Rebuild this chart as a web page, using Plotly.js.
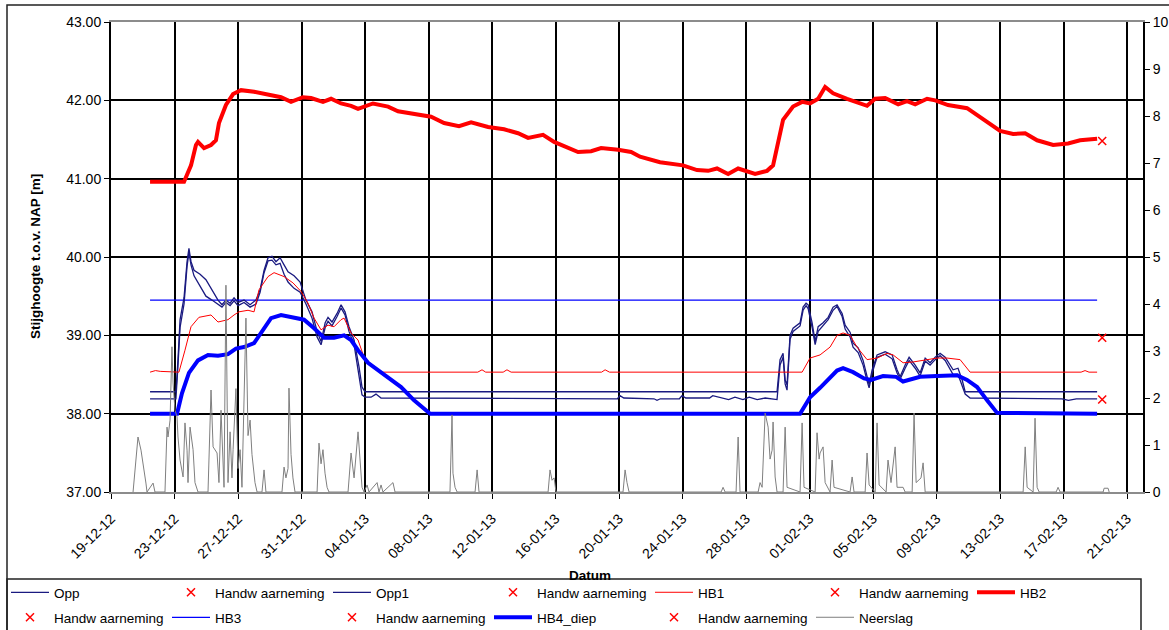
<!DOCTYPE html>
<html>
<head>
<meta charset="utf-8">
<script src="https://cdn.plot.ly/plotly-3.0.1.min.js"></script>
<style>
  html, body { margin: 0; padding: 0; background: #fff; }
  #grafiek { width: 1169px; height: 630px; }
</style>
</head>
<body>
<div id="grafiek"></div>
<script>
// Meetreeksen: [dagen sinds 19-12-2012 00:00, waarde]
const startDatum = Date.UTC(2012, 11, 19);

// Stijghoogten [m t.o.v. NAP]
const opp = [[2.46,38.28],[4.09,38.28],[4.22,38.69],[4.35,39.20],[4.60,39.48],[4.79,39.94],[4.91,40.11],[5.04,39.94],[5.23,39.83],[5.61,39.78],[5.98,39.71],[6.36,39.58],[6.74,39.45],[6.99,39.39],[7.24,39.45],[7.50,39.41],[7.75,39.48],[8.00,39.42],[8.38,39.45],[8.76,39.39],[9.13,39.45],[9.39,39.58],[9.64,39.83],[9.89,39.99],[10.14,40.01],[10.39,39.94],[10.65,39.99],[10.90,39.90],[11.15,39.81],[11.53,39.76],[11.91,39.68],[12.28,39.45],[12.66,39.30],[12.98,39.05],[13.23,38.92],[13.49,39.16],[13.67,39.23],[13.92,39.17],[14.24,39.28],[14.49,39.39],[14.74,39.30],[14.99,39.11],[15.31,38.94],[15.62,38.60],[15.81,38.34],[16.00,38.28],[41.95,38.28],[42.14,38.69],[42.33,38.77],[42.46,38.43],[42.58,38.37],[42.77,39.00],[42.96,39.09],[43.40,39.16],[43.59,39.36],[43.78,39.41],[43.91,39.39],[44.16,39.16],[44.35,38.92],[44.54,39.11],[44.85,39.16],[45.17,39.23],[45.48,39.36],[45.73,39.39],[46.05,39.28],[46.24,39.13],[46.55,39.04],[46.74,38.90],[47.06,38.84],[47.37,38.68],[47.62,38.47],[47.75,38.37],[47.94,38.56],[48.25,38.75],[48.76,38.79],[49.20,38.75],[49.51,38.56],[49.70,38.47],[50.02,38.62],[50.27,38.72],[50.65,38.62],[50.96,38.52],[51.28,38.71],[51.59,38.65],[51.91,38.72],[52.22,38.77],[52.54,38.72],[52.85,38.62],[53.04,38.56],[53.35,38.58],[53.61,38.43],[53.80,38.28],[62.11,38.28]];

const opp1 = [[2.46,38.19],[4.09,38.19],[4.22,38.62],[4.35,39.10],[4.60,39.40],[4.79,39.88],[4.91,40.06],[5.04,39.90],[5.23,39.76],[5.61,39.62],[5.98,39.50],[6.36,39.45],[6.74,39.40],[6.99,39.36],[7.24,39.42],[7.50,39.38],[7.75,39.44],[8.00,39.38],[8.38,39.42],[8.76,39.36],[9.13,39.40],[9.39,39.55],[9.64,39.80],[9.89,39.95],[10.14,39.96],[10.39,39.90],[10.65,39.92],[10.90,39.78],[11.15,39.68],[11.53,39.60],[11.91,39.55],[12.28,39.40],[12.66,39.22],[12.98,38.98],[13.23,38.88],[13.49,39.10],[13.67,39.18],[13.92,39.12],[14.24,39.24],[14.49,39.35],[14.74,39.26],[14.99,39.05],[15.31,38.88],[15.62,38.50],[15.81,38.24],[16.00,38.21],[16.38,38.21],[16.69,38.25],[17.01,38.20],[31.90,38.19],[32.06,38.23],[32.30,38.20],[34.20,38.19],[34.39,38.17],[34.60,38.19],[35.80,38.19],[35.97,38.23],[36.20,38.20],[37.70,38.20],[37.90,38.23],[38.30,38.21],[38.90,38.18],[39.30,38.21],[39.80,38.18],[40.20,38.21],[40.70,38.18],[41.20,38.20],[41.95,38.18],[42.14,38.62],[42.33,38.72],[42.46,38.38],[42.58,38.30],[42.77,38.95],[42.96,39.05],[43.40,39.12],[43.59,39.32],[43.78,39.38],[43.91,39.34],[44.16,39.10],[44.35,38.88],[44.54,39.05],[44.85,39.12],[45.17,39.20],[45.48,39.32],[45.73,39.37],[46.05,39.24],[46.24,39.08],[46.55,38.98],[46.74,38.85],[47.06,38.78],[47.37,38.62],[47.62,38.42],[47.75,38.33],[47.94,38.52],[48.25,38.72],[48.76,38.76],[49.20,38.70],[49.51,38.52],[49.70,38.44],[50.02,38.58],[50.27,38.68],[50.65,38.58],[50.96,38.48],[51.28,38.67],[51.59,38.62],[51.91,38.69],[52.22,38.74],[52.54,38.68],[52.85,38.57],[53.04,38.50],[53.35,38.50],[53.61,38.36],[53.80,38.25],[54.11,38.20],[59.90,38.19],[60.30,38.17],[60.80,38.19],[62.11,38.19]];

const hb1 = [[2.46,38.53],[2.80,38.55],[3.10,38.54],[4.28,38.53],[4.66,38.81],[5.04,39.11],[5.54,39.23],[6.30,39.26],[6.74,39.17],[7.37,39.20],[7.75,39.26],[8.06,39.30],[8.63,39.32],[9.01,39.30],[9.32,39.58],[9.89,39.75],[10.27,39.80],[10.90,39.75],[11.46,39.67],[11.97,39.56],[12.41,39.41],[12.79,39.22],[13.23,39.07],[13.67,39.13],[14.05,39.11],[14.49,39.20],[14.68,39.22],[15.12,39.03],[15.56,38.94],[15.94,38.72],[16.57,38.60],[17.01,38.53],[23.10,38.53],[23.37,38.56],[23.60,38.53],[24.70,38.53],[24.94,38.56],[25.20,38.53],[30.90,38.53],[31.12,38.56],[31.40,38.53],[43.53,38.53],[44.03,38.71],[44.66,38.75],[45.29,38.85],[45.73,39.00],[46.11,39.03],[46.55,39.00],[46.99,38.85],[47.62,38.69],[48.25,38.71],[48.88,38.77],[49.26,38.75],[49.89,38.65],[50.52,38.66],[51.40,38.69],[52.03,38.71],[52.66,38.71],[53.48,38.69],[54.11,38.53],[61.10,38.53],[61.35,38.55],[61.60,38.53],[62.11,38.53]];

const hb2 = [[2.46,40.96],[4.60,40.96],[5.04,41.17],[5.35,41.43],[5.48,41.47],[5.86,41.39],[6.30,41.43],[6.61,41.49],[6.80,41.71],[7.24,41.94],[7.69,42.08],[8.19,42.13],[9.01,42.11],[9.89,42.07],[10.71,42.04],[11.34,41.98],[12.09,42.04],[12.60,42.03],[13.35,41.98],[13.86,42.02],[14.49,41.96],[15.12,41.93],[15.56,41.89],[16.50,41.96],[17.45,41.92],[18.08,41.86],[19.09,41.82],[20.16,41.79],[20.98,41.71],[21.92,41.67],[22.68,41.72],[23.75,41.66],[24.76,41.63],[25.64,41.58],[26.27,41.52],[27.21,41.56],[27.91,41.47],[28.79,41.40],[29.42,41.34],[30.24,41.35],[30.87,41.39],[31.94,41.37],[32.76,41.34],[33.32,41.28],[34.58,41.21],[36.03,41.17],[36.91,41.11],[37.61,41.10],[38.17,41.13],[38.87,41.06],[39.50,41.13],[40.57,41.06],[41.32,41.10],[41.70,41.17],[42.02,41.45],[42.33,41.75],[42.96,41.92],[43.53,41.98],[44.03,41.96],[44.54,42.02],[44.98,42.17],[45.48,42.09],[46.36,42.02],[47.18,41.97],[47.62,41.93],[48.13,42.02],[48.76,42.03],[49.58,41.95],[50.14,41.99],[50.65,41.95],[51.40,42.02],[51.91,42.00],[52.72,41.94],[53.92,41.90],[54.74,41.79],[56.00,41.61],[56.82,41.57],[57.58,41.58],[58.33,41.49],[59.34,41.43],[60.28,41.45],[61.04,41.49],[62.11,41.51]];

const hb3 = [[2.46,39.45],[62.11,39.45]];

const hb4Diep = [[2.46,38.00],[4.16,38.00],[4.47,38.26],[4.91,38.52],[5.48,38.68],[6.11,38.75],[6.74,38.74],[7.37,38.76],[7.87,38.83],[8.38,38.85],[9.01,38.90],[9.45,39.03],[10.08,39.22],[10.71,39.26],[11.53,39.23],[12.16,39.20],[12.79,39.09],[13.42,38.97],[14.05,38.97],[14.68,39.00],[15.12,38.94],[15.56,38.81],[16.19,38.65],[16.82,38.56],[17.45,38.47],[18.27,38.34],[19.09,38.17],[19.97,38.01],[20.10,38.00],[43.40,38.00],[44.03,38.21],[44.66,38.33],[45.29,38.47],[45.73,38.55],[46.11,38.58],[46.74,38.53],[47.43,38.45],[47.87,38.43],[48.63,38.48],[49.45,38.47],[49.89,38.41],[50.96,38.47],[52.03,38.48],[53.29,38.49],[53.92,38.43],[54.55,38.34],[55.18,38.17],[55.81,38.01],[62.11,38.00]];

// Handwaarnemingen (meetdag en stijghoogte); null = geen waarneming
const handwDag = 62.43;
const handwOpp = [38.18];
const handwOpp1 = [null];
const handwHB1 = [38.97];
const handwHB2 = [41.48];
const handwHB3 = [null];
const handwHB4 = [null];

// Neerslag [mm], rechter as
const neerslag = [[1.39,0],[1.51,0.47],[1.70,1.17],[1.89,0.89],[2.02,0.62],[2.20,0.19],[2.27,0],[2.65,0.19],[2.77,0],[3.40,0],[3.53,1.38],[3.59,1.17],[3.72,1.53],[3.84,3.09],[3.91,2.32],[4.03,1.74],[4.16,1.60],[4.22,1.17],[4.35,0.68],[4.54,0.32],[4.66,1.47],[4.79,0.89],[4.85,0.20],[4.98,1.38],[5.17,0.90],[5.29,0.20],[5.48,0],[6.11,0],[6.30,2.17],[6.43,0.96],[6.68,0.83],[6.80,0.20],[6.93,1.74],[7.06,0.74],[7.12,0.10],[7.24,4.40],[7.37,0.20],[7.50,1.28],[7.62,0.30],[7.69,0.90],[7.87,2.20],[8.00,0.50],[8.13,0.90],[8.25,0.10],[8.50,3.70],[8.63,1.20],[8.76,1.53],[8.88,0.80],[9.07,0.20],[9.20,0],[9.51,0],[9.64,0.47],[9.76,0],[10.77,0],[10.90,0.53],[11.02,0.30],[11.15,0.50],[11.21,2.21],[11.34,0.80],[11.46,0.30],[11.59,0],[12.98,0],[13.10,1.04],[13.23,0.60],[13.35,0.90],[13.48,0.40],[13.61,0.10],[13.73,0],[14.93,0],[15.12,0.83],[15.31,0.30],[15.56,1.28],[15.69,0.60],[15.81,0.10],[15.94,0],[16.13,0.15],[16.25,0],[16.76,0.20],[16.88,0],[17.01,0.15],[17.13,0],[17.76,0.20],[17.89,0],[21.35,0],[21.48,1.64],[21.54,0.40],[21.67,0.10],[21.80,0],[22.93,0],[23.06,0.47],[23.18,0],[27.53,0],[27.65,0.47],[27.78,0.25],[27.91,0.30],[28.03,0],[32.25,0],[32.38,0.47],[32.50,0.20],[32.63,0],[38.43,0],[38.55,0.10],[38.68,0],[39.37,0],[39.50,1.17],[39.62,0],[40.76,0],[40.88,0.20],[41.01,0.10],[41.20,1.68],[41.39,1.38],[41.51,0.70],[41.64,0.89],[41.70,1.49],[41.83,0.32],[41.95,0],[42.33,0],[42.46,1.38],[42.58,0.10],[43.40,0],[43.53,1.47],[43.65,0.10],[44.35,0],[44.47,1.26],[44.60,0.70],[44.66,0.83],[44.85,0.96],[44.98,0.20],[45.29,0],[45.42,0.68],[45.54,0.10],[46.55,0],[46.68,0.32],[46.80,0],[47.50,0],[47.62,0.83],[47.75,0.15],[48.13,0],[48.25,1.47],[48.38,0.15],[48.82,0],[48.94,0.68],[49.13,0.20],[49.39,0.96],[49.51,0.10],[49.89,0.10],[50.02,0],[50.46,0],[50.58,1.68],[50.71,0.20],[51.02,0.30],[51.15,0.62],[51.28,0],[57.45,0],[57.58,0.96],[57.70,0.10],[58.08,0],[58.20,1.57],[58.33,0.10],[58.46,0],[59.53,0],[59.65,0.10],[59.78,0],[62.49,0],[62.55,0.08],[62.80,0.08],[62.87,0]];

function datum(dag) {
  return new Date(startDatum + dag * 86400000).toISOString().slice(0, 16).replace('T', ' ');
}
const xs = reeks => reeks.map(p => datum(p[0]));
const ys = reeks => reeks.map(p => p[1]);

const FONT = 'Liberation Sans, Arial, sans-serif';
const NAVY = '#1a1a80';
const ROOD = '#ff0000';
const BLAUW = '#0000ff';

function lijn(naam, reeks, kleur, dikte, legenda, rang, as) {
  return {
    type: 'scatter', mode: 'lines', name: naam,
    x: xs(reeks), y: ys(reeks), yaxis: as || 'y',
    line: {color: kleur, width: dikte},
    legend: legenda, legendrank: rang, hoverinfo: 'skip'
  };
}
function handw(waarden, legenda, rang) {
  return {
    type: 'scatter', mode: 'markers', name: 'Handw aarneming',
    x: waarden.map(() => datum(handwDag)), y: waarden,
    marker: {symbol: 'x-thin-open', size: 8, color: ROOD, line: {color: ROOD, width: 1.5}},
    legend: legenda, legendrank: rang, hoverinfo: 'skip'
  };
}

const traces = [
  lijn('Neerslag', neerslag, '#7f7f7f', 1, 'legend2', 6, 'y2'),
  lijn('HB3', hb3, BLAUW, 1.3, 'legend2', 2),
  lijn('Opp', opp, NAVY, 1.3, 'legend', 1),
  lijn('Opp1', opp1, NAVY, 1.3, 'legend', 3),
  lijn('HB1', hb1, ROOD, 1, 'legend', 5),
  lijn('HB4_diep', hb4Diep, BLAUW, 4, 'legend2', 4),
  lijn('HB2', hb2, ROOD, 4, 'legend', 7),
  handw(handwOpp, 'legend', 2),
  handw(handwOpp1, 'legend', 4),
  handw(handwHB1, 'legend', 6),
  handw(handwHB2, 'legend2', 1),
  handw(handwHB3, 'legend2', 3),
  handw(handwHB4, 'legend2', 5)
];

// omrekening van pixelposities in de figuur naar papiercoördinaten
const L = 111, R = 1143, T = 22, B = 492;
const px = x => (x - L) / (R - L);
const py = y => (B - y) / (B - T);

const legendeBasis = {
  orientation: 'h', xanchor: 'left', yanchor: 'top',
  font: {family: FONT, size: 13.5, color: '#000'},
  bgcolor: 'rgba(0,0,0,0)', borderwidth: 0,
  entrywidth: 108, entrywidthmode: 'pixels', itemwidth: 38,
  traceorder: 'normal'
};

const layout = {
  width: 1169, height: 630,
  margin: {l: L, r: 1169 - R, t: T, b: 630 - B, pad: 0, autoexpand: false},
  paper_bgcolor: '#fff', plot_bgcolor: '#fff',
  font: {family: FONT, size: 14, color: '#000'},
  showlegend: true,
  xaxis: {
    type: 'date', range: ['2012-12-19', '2013-02-22'],
    tick0: '2012-12-19', dtick: 4 * 86400000, tickformat: '%d-%m-%y',
    tickangle: -45, ticks: 'outside', ticklen: 5, tickcolor: '#000',
    ticklabelstandoff: 6,
    tickfont: {family: FONT, size: 14, color: '#000'},
    showgrid: true, gridcolor: '#000', gridwidth: 2,
    showline: true, linecolor: '#8c8c8c', linewidth: 2, mirror: true,
    zeroline: false, automargin: false, fixedrange: true
  },
  yaxis: {
    range: [37, 43], dtick: 1, tickformat: '.2f',
    ticks: 'outside', ticklen: 5, tickcolor: '#000',
    tickfont: {family: FONT, size: 14, color: '#000'},
    showgrid: true, gridcolor: '#000', gridwidth: 2,
    showline: true, linecolor: '#000', linewidth: 2,
    zeroline: false, automargin: false, fixedrange: true
  },
  yaxis2: {
    range: [0, 10], dtick: 1, overlaying: 'y', side: 'right',
    ticks: 'outside', ticklen: 5, tickcolor: '#000',
    tickfont: {family: FONT, size: 14, color: '#000'},
    showgrid: false, showline: true, linecolor: '#000', linewidth: 2,
    zeroline: false, automargin: false, fixedrange: true
  },
  legend: Object.assign({}, legendeBasis, {x: px(6), y: py(577)}),
  legend2: Object.assign({}, legendeBasis, {x: px(6), y: py(602)}),
  annotations: [
    {text: '<b>Stijghoogte t.o.v. NAP [m]</b>', xref: 'paper', yref: 'paper',
     x: px(35), y: py(257), xanchor: 'center', yanchor: 'middle', textangle: -90, showarrow: false,
     font: {family: FONT, size: 13.5, color: '#000'}},
    {text: '<b>Datum</b>', xref: 'paper', yref: 'paper',
     x: px(590), y: py(575), xanchor: 'center', yanchor: 'middle', showarrow: false,
     font: {family: FONT, size: 13.5, color: '#000'}}
  ],
  shapes: [
    // kader rond de hele grafiek
    {type: 'rect', xref: 'paper', yref: 'paper', x0: px(7), x1: px(1180), y0: py(640), y1: py(5),
     line: {color: '#222', width: 1.5}, fillcolor: 'rgba(0,0,0,0)', layer: 'above'},
    // kader rond de legenda
    {type: 'rect', xref: 'paper', yref: 'paper', x0: px(7), x1: px(1141), y0: py(640), y1: py(579),
     line: {color: '#222', width: 1.5}, fillcolor: 'rgba(0,0,0,0)', layer: 'above'}
  ]
};

Plotly.newPlot('grafiek', traces, layout, {staticPlot: true, displayModeBar: false});
</script>
</body>
</html>
